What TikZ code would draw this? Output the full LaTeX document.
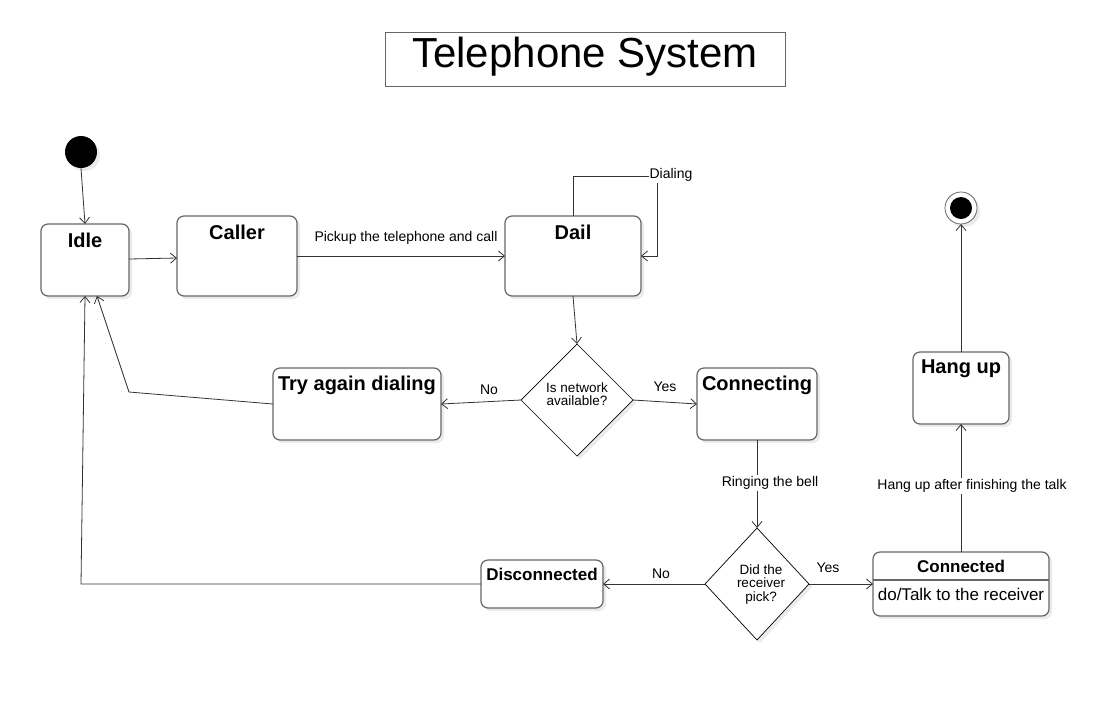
\documentclass[tikz,border=0pt]{standalone}
\usepackage{fontspec}
\setmainfont{Liberation Sans}
\usetikzlibrary{arrows.meta,shapes.geometric,shadows}
\begin{document}
\begin{tikzpicture}[x=1pt,y=-1pt,
  every node/.style={inner sep=0pt,outer sep=0pt},
  shad/.style={drop shadow={shadow xshift=3pt,shadow yshift=-3pt,fill=black!8,opacity=1}},
  state/.style={draw=black!60,line width=1.2pt,rounded corners=7pt,fill=white,shad},
  dec/.style={diamond,aspect=1,draw=black,line width=0.7pt,fill=white,shad},
  dtxt/.style={align=center,font=\fontsize{13.5}{13.5}\selectfont},
  ttl/.style={font=\fontsize{20}{24}\selectfont\bfseries},
  lbl/.style={font=\fontsize{14}{16}\selectfont,fill=white,inner sep=1pt},
  conn/.style={draw=black!80,line width=0.8pt,-{Straight Barb[length=6pt,width=10pt]}}
]
\useasboundingbox (0,0) rectangle (1119,721);
\fill[white] (0,0) rectangle (1119,721);
% title
\node[draw=black!60,line width=0.8pt,minimum width=400pt,minimum height=54pt] (title) at (585,59) {};
\node[font=\fontsize{42}{48}\selectfont] (titleT) at (585,57) {Telephone System};
% initial and final
\node[circle,fill=black,minimum size=32pt,shad] (init) at (81,152) {};
\node[circle,draw=black!60,line width=0.8pt,fill=white,minimum size=32pt,shad] (fin) at (961,208) {};
\node[circle,fill=black,minimum size=22pt] (finin) at (fin) {};
% states
\node[state,minimum width=88pt,minimum height=72pt] (idle) at (85,260) {};
\node[ttl] (idleT) at (85,240) {Idle};
\node[state,minimum width=120pt,minimum height=80pt] (caller) at (237,256) {};
\node[ttl] (callerT) at (237,232) {Caller};
\node[state,minimum width=136pt,minimum height=80pt] (dail) at (573,256) {};
\node[ttl] (dailT) at (573,232) {Dail};
\node[state,minimum width=168pt,minimum height=72pt] (try) at (357,404) {};
\node[ttl] (tryT) at (357,385) {Try again dialing};
\node[state,minimum width=120pt,minimum height=72pt] (cing) at (757,404) {};
\node[ttl] (cingT) at (757,385) {Connecting};
\node[state,minimum width=122pt,minimum height=48pt] (dis) at (542,584) {};
\node[font=\fontsize{17}{20}\selectfont\bfseries] (disT) at (542,574) {Disconnected};
\node[state,minimum width=176pt,minimum height=64pt] (con) at (961,584) {};
\draw[draw=black!60,line width=1.2pt] (con.west |- 0,580) -- (con.east |- 0,580);
\node[font=\fontsize{17}{20}\selectfont\bfseries] (conT) at (961,566) {Connected};
\node[font=\fontsize{17}{20}\selectfont] (conB) at (961,594) {do/Talk to the receiver};
\node[state,minimum width=96pt,minimum height=72pt] (hang) at (961,388) {};
\node[ttl] (hangT) at (961,369) {Hang up};
% decisions
\node[dec,minimum width=112pt,minimum height=112pt] (d1) at (577,400) {};
\node[dtxt] (d1T) at (577,394) {Is network\\available?};
\node[dec,minimum width=104pt,minimum height=112pt,aspect=0.93] (d2) at (757,584) {};
\node[dtxt] (d2T) at (761,584) {Did the\\receiver\\pick?};
% connectors
\draw[conn] (init.south) -- (idle.north);
\draw[conn] ([yshift=1pt]idle.east) -- ([yshift=-2pt]caller.west);
\draw[conn] (caller.east) -- (dail.west);
\node[lbl] (l1) at (406,238) {Pickup the telephone and call};
\draw[conn] (dail.north) |- (657,176) |- (dail.east);
\node[lbl] (l2) at (671,175) {Dialing};
\draw[conn] (dail.south) -- (d1.north);
\draw[conn] (d1.west) -- (try.east);
\node[lbl] (l3) at (489,390) {No};
\draw[conn] (d1.east) -- (cing.west);
\node[lbl] (l4) at (665,387) {Yes};
\draw[conn] (try.west) -- (129,392) -- ([xshift=12pt]idle.south);
\draw[conn] (cing.south) -- (d2.north);
\node[lbl] (l5) at (770,483) {Ringing the bell};
\draw[conn] (d2.west) -- (dis.east);
\node[lbl] (l6) at (661,574) {No};
\draw[conn] (d2.east) -- (con.west);
\node[lbl] (l7) at (828,568) {Yes};
\draw[conn] (dis.west) -- (81,584) -- (idle.south);
\draw[conn] (con.north) -- (hang.south);
\node[lbl] (l8) at (972,486) {Hang up after finishing the talk};
\draw[conn] (hang.north) -- (fin.south);
\end{tikzpicture}
\end{document}
